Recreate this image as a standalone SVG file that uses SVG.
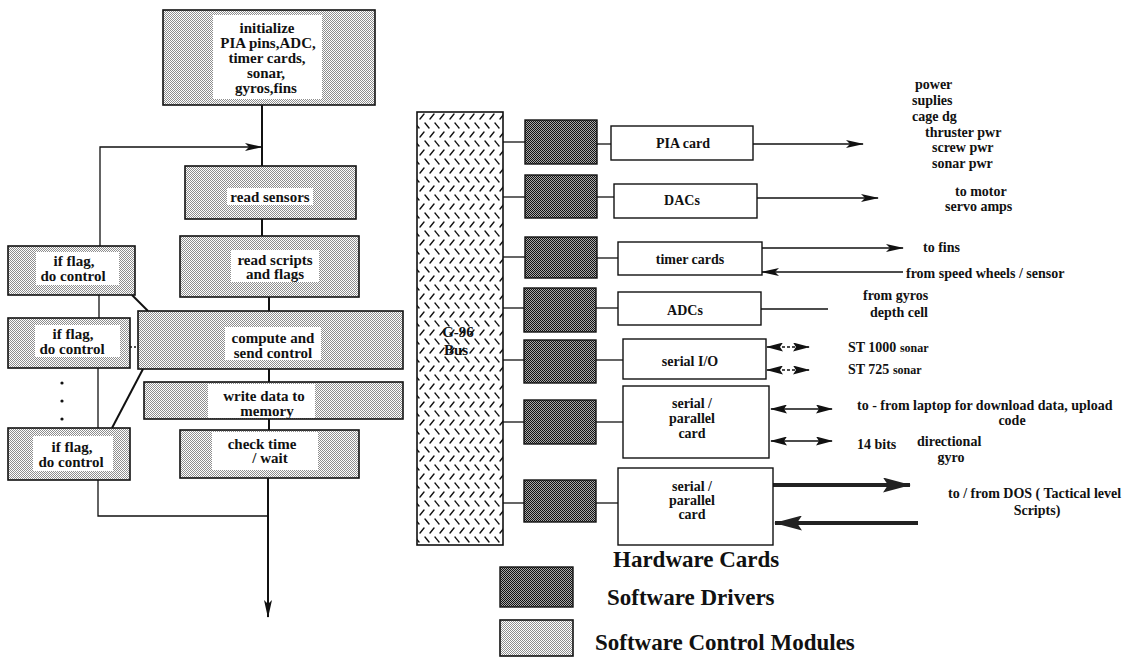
<svg xmlns="http://www.w3.org/2000/svg" width="1143" height="657" viewBox="0 0 1143 657">
<style>
text{font-family:"Liberation Serif","Times New Roman",serif;font-weight:bold;fill:#111}
.f{font-size:15px;text-anchor:middle}
.h{font-size:14px;text-anchor:middle}
.r{font-size:14px}
.lg{font-size:23px}
.ctl{fill:url(#pctl);stroke:#111;stroke-width:1.6}
.drv{fill:url(#pdrv);stroke:#111;stroke-width:1.4}
.hw{fill:#fff;stroke:#111;stroke-width:1.4}
.wb{fill:#fff}
.c{stroke:#111;stroke-width:1.3;fill:none}
.cb{stroke:#111;stroke-width:2;fill:none}
.ct{stroke:#222;stroke-width:4;fill:none}
</style>
<defs>
<pattern id="pctl" width="2" height="2" patternUnits="userSpaceOnUse">
<rect width="2" height="2" fill="#fff"/>
<rect width="1" height="1" fill="#8e8e8e"/>
<rect x="1" y="1" width="1" height="1" fill="#8e8e8e"/>
</pattern>
<pattern id="pdrv" width="2" height="2" patternUnits="userSpaceOnUse">
<rect width="2" height="2" fill="#a8a8a8"/>
<rect width="1" height="1" fill="#111"/>
<rect x="1" y="1" width="1" height="1" fill="#111"/>
</pattern>
<pattern id="pbus" width="20" height="18" patternUnits="userSpaceOnUse" x="417" y="112">
<rect width="20" height="18" fill="#fff"/>
<path d="M3,7 L7,2 M13,7 L17,2 M-2,11 L2,16 M8,11 L12,16 M18,11 L22,16" stroke="#111" stroke-width="1.4" stroke-linecap="round"/>
</pattern>
<marker id="ah" viewBox="0 0 18 8" refX="17" refY="4" markerWidth="18" markerHeight="8" markerUnits="userSpaceOnUse" orient="auto-start-reverse">
<path d="M0,0 L18,4 L0,8 L4,4 Z" fill="#111"/>
</marker>
<marker id="ahs" viewBox="0 0 17 9" refX="16" refY="4.5" markerWidth="17" markerHeight="9" markerUnits="userSpaceOnUse" orient="auto-start-reverse">
<path d="M0,0 L17,4.5 L0,9 L3,4.5 Z" fill="#111"/>
</marker>
<marker id="aht" viewBox="0 0 28 15" refX="27" refY="7.5" markerWidth="28" markerHeight="15" markerUnits="userSpaceOnUse" orient="auto">
<path d="M0,0 L28,7.5 L0,15 L5,7.5 Z" fill="#222"/>
</marker>
</defs>
<rect width="1143" height="657" fill="#fff"/>

<g id="connectors">
<line class="cb" x1="262" y1="105" x2="262" y2="166"/>
<polyline class="c" points="100,246 100,147 262,147" marker-end="url(#ah)"/>
<line class="cb" x1="262" y1="219" x2="262" y2="236"/>
<line class="cb" x1="269" y1="297" x2="269" y2="311"/>
<line class="cb" x1="269" y1="369" x2="269" y2="382"/>
<line class="cb" x1="269" y1="419" x2="269" y2="430"/>
<line class="cb" x1="268" y1="478" x2="268" y2="617" marker-end="url(#ah)"/>
<polyline class="c" points="98,480 98,516 268,516"/>
<line class="c" x1="99" y1="295" x2="99" y2="318"/>
<line class="c" x1="98" y1="368" x2="98" y2="428"/>
<line class="cb" x1="132" y1="295" x2="148" y2="311"/>
<line class="cb" x1="143" y1="369" x2="112" y2="428"/>
<line class="c" x1="130" y1="347" x2="138" y2="347" stroke-dasharray="2,2"/>
<line class="c" x1="503" y1="142" x2="525" y2="142"/>
<line class="c" x1="597" y1="144" x2="611" y2="144"/>
<line class="c" x1="503" y1="197" x2="525" y2="197"/>
<line class="c" x1="597" y1="197" x2="614" y2="197"/>
<line class="c" x1="503" y1="257" x2="525" y2="257"/>
<line class="c" x1="597" y1="258" x2="618" y2="258"/>
<line class="c" x1="503" y1="308" x2="524" y2="308"/>
<line class="c" x1="596" y1="308" x2="618" y2="308"/>
<line class="c" x1="503" y1="360" x2="524" y2="360"/>
<line class="c" x1="596" y1="360" x2="623" y2="360"/>
<line class="c" x1="503" y1="422" x2="524" y2="422"/>
<line class="c" x1="596" y1="422" x2="623" y2="422"/>
<line class="c" x1="503" y1="503" x2="524" y2="503"/>
<line class="c" x1="596" y1="503" x2="618" y2="503"/>
<line class="c" x1="753" y1="144" x2="863" y2="144" marker-end="url(#ah)"/>
<line class="c" x1="757" y1="198" x2="878" y2="198" marker-end="url(#ah)"/>
<line class="c" x1="762" y1="248" x2="903" y2="248" marker-end="url(#ah)"/>
<line class="c" x1="903" y1="272" x2="762" y2="272" marker-end="url(#ah)"/>
<line class="c" x1="761" y1="309" x2="828" y2="309"/>
<line class="c" x1="767" y1="347" x2="809" y2="347" stroke-dasharray="3,2" marker-start="url(#ahs)" marker-end="url(#ahs)"/>
<line class="c" x1="767" y1="370" x2="809" y2="370" stroke-dasharray="3,2" marker-start="url(#ahs)" marker-end="url(#ahs)"/>
<line class="c" x1="771" y1="409" x2="832" y2="409" marker-start="url(#ahs)" marker-end="url(#ahs)"/>
<line class="c" x1="771" y1="441" x2="832" y2="441" marker-start="url(#ahs)" marker-end="url(#ahs)"/>
<line class="ct" x1="773" y1="485" x2="910" y2="485" marker-end="url(#aht)"/>
<line class="ct" x1="918" y1="523" x2="775" y2="523" marker-end="url(#aht)"/>
</g>

<g id="init">
<rect class="ctl" x="163" y="10" width="212" height="95"/>
<rect class="wb" x="213" y="15" width="109" height="84"/>
<text class="f" x="267" y="33">initialize</text>
<text class="f" x="268" y="48">PIA pins,ADC,</text>
<text class="f" x="267" y="63">timer cards,</text>
<text class="f" x="266" y="78">sonar,</text>
<text class="f" x="266" y="93">gyros,fins</text>
</g>
<g id="read-sensors">
<rect class="ctl" x="185" y="166" width="171" height="53"/>
<rect class="wb" x="227" y="188" width="86" height="17"/>
<text class="f" x="270" y="202">read sensors</text>
</g>
<g id="read-scripts">
<rect class="ctl" x="180" y="236" width="179" height="61"/>
<rect class="wb" x="231" y="250" width="88" height="32"/>
<text class="f" x="275" y="265">read scripts</text>
<text class="f" x="275" y="279">and flags</text>
</g>
<g id="compute">
<rect class="ctl" x="138" y="311" width="265" height="58"/>
<rect class="wb" x="225" y="327" width="96" height="33"/>
<text class="f" x="273" y="343">compute and</text>
<text class="f" x="273" y="358">send control</text>
</g>
<g id="write-data">
<rect class="ctl" x="144" y="382" width="259" height="37"/>
<rect class="wb" x="208" y="384" width="107" height="34"/>
<text class="f" x="264" y="401">write data to</text>
<text class="f" x="267" y="416">memory</text>
</g>
<g id="check-time">
<rect class="ctl" x="180" y="430" width="179" height="48"/>
<rect class="wb" x="212" y="432" width="106" height="38"/>
<text class="f" x="262" y="449">check time</text>
<text class="f" x="270" y="463">/ wait</text>
</g>
<g id="if-flag-1">
<rect class="ctl" x="8" y="246" width="127" height="49"/>
<rect class="wb" x="36" y="252" width="83" height="33"/>
<text class="f" x="74" y="266">if flag,</text>
<text class="f" x="73" y="281">do control</text>
</g>
<g id="if-flag-2">
<rect class="ctl" x="8" y="318" width="122" height="50"/>
<rect class="wb" x="35" y="325" width="85" height="32"/>
<text class="f" x="73" y="339">if flag,</text>
<text class="f" x="72" y="354">do control</text>
</g>
<g id="dots">
<circle cx="62" cy="383" r="1.6" fill="#111"/>
<circle cx="62" cy="401" r="1.6" fill="#111"/>
<circle cx="62" cy="419" r="1.6" fill="#111"/>
</g>
<g id="if-flag-3">
<rect class="ctl" x="8" y="428" width="122" height="52"/>
<rect class="wb" x="33" y="436" width="80" height="35"/>
<text class="f" x="72" y="452">if flag,</text>
<text class="f" x="71" y="467">do control</text>
</g>

<g id="bus">
<rect x="417" y="112" width="86" height="433" fill="url(#pbus)" stroke="#111" stroke-width="1.6"/>
<text class="f" x="458" y="337">G-96</text>
<text class="f" x="456" y="355">Bus</text>
</g>

<g id="driver-1"><rect class="drv" x="525" y="120" width="72" height="44"/></g>
<g id="driver-2"><rect class="drv" x="525" y="175" width="72" height="43"/></g>
<g id="driver-3"><rect class="drv" x="525" y="237" width="72" height="41"/></g>
<g id="driver-4"><rect class="drv" x="524" y="288" width="72" height="44"/></g>
<g id="driver-5"><rect class="drv" x="524" y="340" width="72" height="43"/></g>
<g id="driver-6"><rect class="drv" x="524" y="400" width="72" height="44"/></g>
<g id="driver-7"><rect class="drv" x="524" y="480" width="72" height="42"/></g>

<g id="pia-card">
<rect class="hw" x="611" y="126" width="142" height="34"/>
<text class="h" x="683" y="148">PIA card</text>
</g>
<g id="dacs">
<rect class="hw" x="614" y="184" width="143" height="34"/>
<text class="h" x="682" y="205">DACs</text>
</g>
<g id="timer-cards">
<rect class="hw" x="618" y="242" width="144" height="33"/>
<text class="h" x="690" y="264">timer cards</text>
</g>
<g id="adcs">
<rect class="hw" x="618" y="292" width="143" height="33"/>
<text class="h" x="685" y="315">ADCs</text>
</g>
<g id="serial-io">
<rect class="hw" x="623" y="339" width="143" height="40"/>
<text class="h" x="690" y="366">serial I/O</text>
</g>
<g id="serial-parallel-1">
<rect class="hw" x="623" y="386" width="146" height="72"/>
<text class="h" x="692" y="408">serial /</text>
<text class="h" x="692" y="423">parallel</text>
<text class="h" x="692" y="438">card</text>
</g>
<g id="serial-parallel-2">
<rect class="hw" x="618" y="468" width="155" height="77"/>
<text class="h" x="692" y="491">serial /</text>
<text class="h" x="692" y="505">parallel</text>
<text class="h" x="692" y="519">card</text>
</g>

<g id="labels">
<text class="r" x="915" y="89">power</text>
<text class="r" x="912" y="105">suplies</text>
<text class="r" x="912" y="121">cage dg</text>
<text class="r" x="925" y="137">thruster pwr</text>
<text class="r" x="932" y="152">screw pwr</text>
<text class="r" x="932" y="168">sonar pwr</text>
<text class="r" x="955" y="196">to motor</text>
<text class="r" x="945" y="211">servo amps</text>
<text class="r" x="923" y="252">to fins</text>
<text class="r" x="906" y="278">from speed wheels / sensor</text>
<text class="r" x="863" y="300">from gyros</text>
<text class="r" x="870" y="317">depth cell</text>
<text class="r" x="848" y="352">ST 1000 <tspan font-size="12">sonar</tspan></text>
<text class="r" x="848" y="374">ST 725 <tspan font-size="12">sonar</tspan></text>
<text class="r" x="857" y="410">to - from laptop for download data, upload</text>
<text class="r" x="1012" y="425" text-anchor="middle">code</text>
<text class="r" x="857" y="449">14 bits</text>
<text class="r" x="917" y="446">directional</text>
<text class="r" x="951" y="462" text-anchor="middle">gyro</text>
<text class="r" x="948" y="498">to / from DOS ( Tactical level</text>
<text class="r" x="1037" y="515" text-anchor="middle">Scripts)</text>
</g>

<g id="legend">
<text class="lg" x="613" y="567">Hardware Cards</text>
<rect class="drv" x="500" y="567" width="73" height="40"/>
<text class="lg" x="607" y="605">Software Drivers</text>
<rect class="ctl" x="500" y="620" width="73" height="36"/>
<text class="lg" x="595" y="650">Software Control Modules</text>
</g>
</svg>
